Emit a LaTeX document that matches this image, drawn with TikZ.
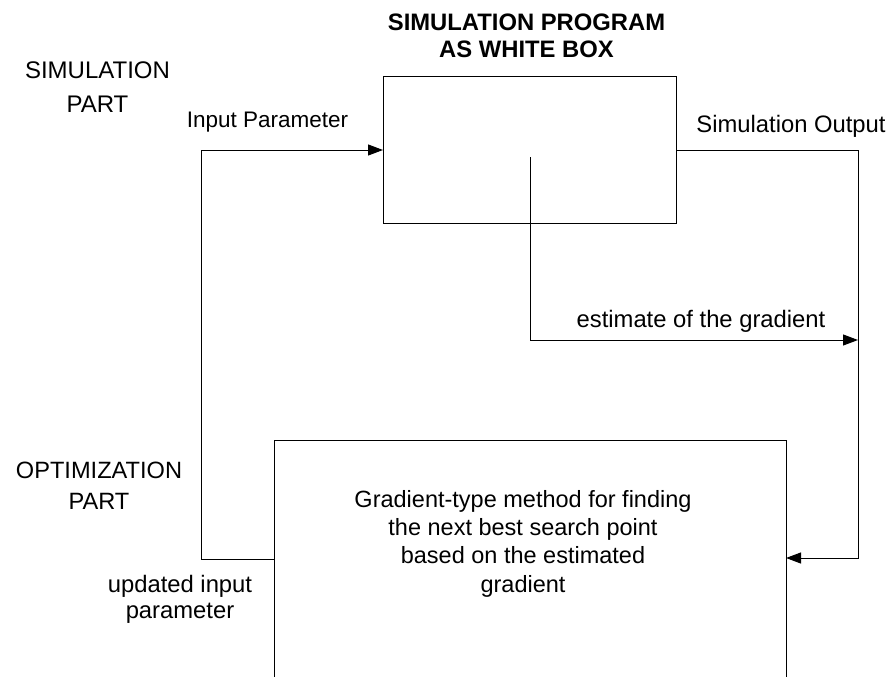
\documentclass[tikz,border=0pt]{standalone}
\usepackage{fontspec}
\setmainfont{Liberation Sans}
\usetikzlibrary{arrows.meta}
\begin{document}
\begin{tikzpicture}[x=1pt,y=-1pt,
  conn/.style={line width=1pt,-{Triangle[length=15pt,width=11pt]}},
  lbl/.style={font=\fontsize{23.8}{28}\selectfont,align=center,inner sep=0pt,anchor=base},
  blk/.style={draw,line width=1pt}]
\useasboundingbox (0,0) rectangle (889,677);
\begin{scope}
\clip (0,0) rectangle (889,677);
% simulation program box
\draw[blk] (383,77) rectangle (676,223);
\coordinate (sim) at (383,150);
\coordinate (simout) at (676,150);
% optimization box, open at the lower edge of the page
\draw[blk] (274,440) rectangle (786,700);
\coordinate (optin) at (786,558);
\coordinate (optout) at (274,559);
% connectors
\coordinate (fbl) at (201,559);
\coordinate (fbt) at (201,150);
\draw[conn] (optout) -- (fbl) -- (fbt) -- (sim);
\coordinate (outr) at (858,150);
\coordinate (outb) at (858,558);
\draw[conn] (simout) -- (outr) -- (outb) -- (optin);
\coordinate (gs) at (530,157);
\coordinate (gc) at (530,340);
\coordinate (ge) at (858,340);
\draw[conn] (gs) -- (gc) -- (ge);
\end{scope}
% labels (base anchor = baseline of the last line)
\node[lbl,font=\fontsize{23.8}{28}\selectfont\bfseries] (title) at (526.5,58) {SIMULATION PROGRAM\\AS WHITE BOX};
\node[lbl,font=\fontsize{24}{34}\selectfont] (simpart) at (97.5,112) {SIMULATION\\PART};
\node[lbl,font=\fontsize{23.6}{31}\selectfont] (optpart) at (99,509) {OPTIMIZATION\\PART};
\node[lbl,font=\fontsize{22.5}{28}\selectfont] (inp) at (267.5,127) {Input Parameter};
\node[lbl] (outl) at (791,132) {Simulation Output};
\node[lbl] (grad) at (701,327) {estimate of the gradient};
\node[lbl,font=\fontsize{23.8}{26}\selectfont] (upd) at (180,618) {updated input\\parameter};
\node[lbl,font=\fontsize{23.5}{28.3}\selectfont] (method) at (523,592) {Gradient-type method for finding\\the next best search point\\based on the estimated\\gradient};
\end{tikzpicture}
\end{document}
